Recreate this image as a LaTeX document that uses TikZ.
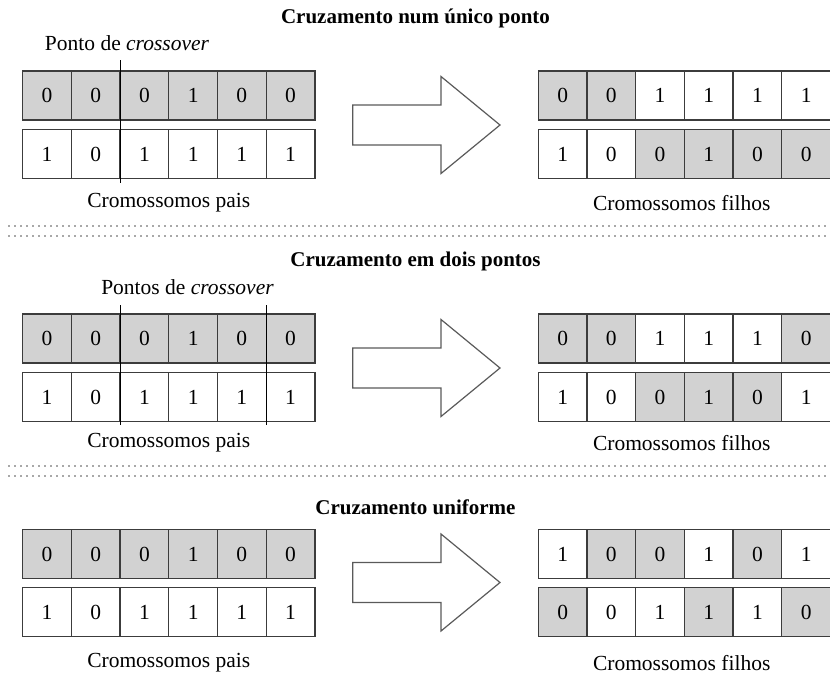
\documentclass[tikz,border=0pt]{standalone}
\usepackage{fontspec}
\setmainfont{Liberation Serif}
\definecolor{cellgray}{HTML}{D2D2D2}
\definecolor{cellline}{HTML}{3C3C3C}
\definecolor{arrowline}{HTML}{5A5A5A}
\definecolor{sepdots}{HTML}{A8A8A8}
\newcommand\celltext{\fontsize{21.5pt}{24pt}\selectfont}
\newcommand\labeltext{\fontsize{21.5pt}{25pt}\selectfont}
\newcommand\titletext{\fontsize{21pt}{25pt}\selectfont\bfseries}
% one row of genes: name prefix, left x, top y, list of style/digit
\newcommand\generow[4]{%
  \foreach [count=\i] \s/\d in {#4} {
    \node[\s, anchor=north west] (#1-\i) at ({#2+(\i-1)*48.7}, #3) {\d};
  }}
% block arrow pointing right, centred vertically on #2
\newcommand\blockarrow[2]{%
  \coordinate (#1-c) at (352.7,#2);
  \draw[bigarrow] (352.7,#2-20) -- (441,#2-20) -- (441,#2-48.5) -- (500,#2)
    -- (441,#2+48.5) -- (441,#2+20) -- (352.7,#2+20) -- cycle;}
\tikzset{
  cell/.style={draw=cellline, line width=1.3pt, minimum width=48.7pt,
    minimum height=49pt, inner sep=0pt, outer sep=0pt, font=\celltext},
  on/.style={cell, fill=cellgray},
  off/.style={cell, fill=white},
  bigarrow/.style={draw=arrowline, line width=1.2pt, fill=white, line join=miter},
  cutline/.style={draw=black, line width=1pt},
  sepline/.style={draw=sepdots, line width=1.6pt, dash pattern=on 1.6pt off 4.4pt},
  caption/.style={font=\labeltext, inner sep=0pt},
  heading/.style={font=\titletext, inner sep=0pt},
}
\begin{document}
\begin{tikzpicture}[x=1pt, y=-1pt]
\useasboundingbox[fill=white] (0,0) rectangle (830,675);

% ---- single point crossover ----
\node[heading] (t1) at (415.5,18) {Cruzamento num único ponto};
\node[caption] (p1) at (127,43) {Ponto de \textit{crossover}};
\generow{a1}{22.7}{71}{on/0,on/0,on/0,on/1,on/0,on/0}
\generow{b1}{22.7}{129.5}{off/1,off/0,off/1,off/1,off/1,off/1}
\generow{c1}{538.3}{71}{on/0,on/0,off/1,off/1,off/1,off/1}
\generow{d1}{538.3}{129.5}{off/1,off/0,on/0,on/1,on/0,on/0}
\coordinate (x1t) at (120,60);
\coordinate (x1b) at (120,183);
\draw[cutline] (x1t) -- (x1b);
\blockarrow{r1}{125}
\node[caption] (cp1) at (168.8,203) {Cromossomos pais};
\node[caption] (cf1) at (681.7,203) {Cromossomos filhos};
\coordinate (s1l) at (8,226);   \coordinate (s1r) at (830,226);
\coordinate (s2l) at (8,236);   \coordinate (s2r) at (830,236);
\draw[sepline] (s1l) -- (s1r);
\draw[sepline] (s2l) -- (s2r);

% ---- two point crossover ----
\node[heading] (t2) at (415.5,261) {Cruzamento em dois pontos};
\node[caption] (p2) at (187.5,287) {Pontos de \textit{crossover}};
\generow{a2}{22.7}{314}{on/0,on/0,on/0,on/1,on/0,on/0}
\generow{b2}{22.7}{372.5}{off/1,off/0,off/1,off/1,off/1,off/1}
\generow{c2}{538.3}{314}{on/0,on/0,off/1,off/1,off/1,on/0}
\generow{d2}{538.3}{372.5}{off/1,off/0,on/0,on/1,on/0,off/1}
\coordinate (x2t) at (120,305);
\coordinate (x2b) at (120,425);
\coordinate (x3t) at (266.5,305);
\coordinate (x3b) at (266.5,425);
\draw[cutline] (x2t) -- (x2b);
\draw[cutline] (x3t) -- (x3b);
\blockarrow{r2}{368}
\node[caption] (cp2) at (168.8,443) {Cromossomos pais};
\node[caption] (cf2) at (681.7,443) {Cromossomos filhos};
\coordinate (s3l) at (8,466);   \coordinate (s3r) at (830,466);
\coordinate (s4l) at (8,476);   \coordinate (s4r) at (830,476);
\draw[sepline] (s3l) -- (s3r);
\draw[sepline] (s4l) -- (s4r);

% ---- uniform crossover ----
\node[heading] (t3) at (415.5,507) {Cruzamento uniforme};
\generow{a3}{22.7}{529.5}{on/0,on/0,on/0,on/1,on/0,on/0}
\generow{b3}{22.7}{587.5}{off/1,off/0,off/1,off/1,off/1,off/1}
\generow{c3}{538.3}{529.5}{off/1,on/0,on/0,off/1,on/0,off/1}
\generow{d3}{538.3}{587.5}{on/0,off/0,off/1,on/1,off/1,on/0}
\blockarrow{r3}{582.5}
\node[caption] (cp3) at (168.8,663) {Cromossomos pais};
\node[caption] (cf3) at (681.7,663) {Cromossomos filhos};
\end{tikzpicture}
\end{document}
